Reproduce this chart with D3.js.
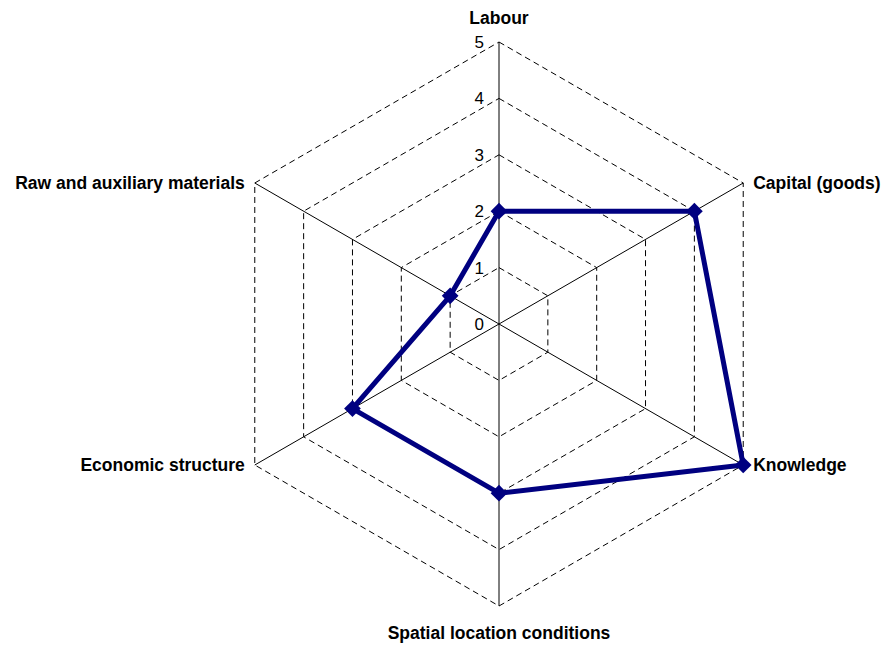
<!DOCTYPE html>
<html>
<head>
<meta charset="utf-8">
<script src="https://cdn.jsdelivr.net/npm/d3@7"></script>
<style>
  body { margin: 0; background: #fff; }
  svg { display: block; }
</style>
</head>
<body>
<script>
// Chart size
const w = 891;
const h = 646;

// Data
const categories = ["Labour", "Capital (goods)", "Knowledge", "Spatial location conditions", "Economic structure", "Raw and auxiliary materials"];
const values = [2, 4, 5, 3, 3, 1];
const tickValues = [0, 1, 2, 3, 4, 5];

// Center and radius of the radar
const cx = 499;
const cy = 324;
const radius = 282;

const svg = d3.select("body").append("svg").attr("width", w).attr("height", h);

const rScale = d3.scaleLinear().domain([0, 5]).range([0, radius]);
const angle = d3.scalePoint().domain(categories).range([0, 2 * Math.PI * (categories.length - 1) / categories.length]);

function point(cat, v) {
  const a = angle(cat);
  return [cx + rScale(v) * Math.sin(a), cy - rScale(v) * Math.cos(a)];
}

// Dashed hexagon rings
svg.append("g")
  .selectAll("path")
  .data(tickValues.slice(1))
  .enter()
  .append("path")
  .attr("d", t => d3.line()(categories.map(c => point(c, t))) + "Z")
  .attr("fill", "none")
  .attr("stroke", "#000")
  .attr("stroke-width", 1)
  .attr("stroke-dasharray", "6,4");

// Spokes
svg.append("g")
  .selectAll("line")
  .data(categories)
  .enter()
  .append("line")
  .attr("x1", cx)
  .attr("y1", cy)
  .attr("x2", c => point(c, 5)[0])
  .attr("y2", c => point(c, 5)[1])
  .attr("stroke", "#000")
  .attr("stroke-width", 1);

// Tick labels on the first axis
svg.append("g")
  .selectAll("text")
  .data(tickValues)
  .enter()
  .append("text")
  .attr("x", cx - 15)
  .attr("y", t => cy - rScale(t) + 6)
  .attr("text-anchor", "end")
  .style("font-family", "Liberation Sans, Arial, sans-serif")
  .style("font-size", "17px")
  .text(t => t);

// Data line
const pts = categories.map((c, i) => point(c, values[i]));
svg.append("path")
  .attr("d", d3.line()(pts) + "Z")
  .attr("fill", "none")
  .attr("stroke", "#000080")
  .attr("stroke-width", 5)
  .attr("stroke-linejoin", "round");

// Diamond markers
svg.append("g")
  .selectAll("path")
  .data(pts)
  .enter()
  .append("path")
  .attr("d", d3.symbol().type(d3.symbolSquare).size(140))
  .attr("transform", d => "translate(" + d[0] + "," + d[1] + ") rotate(45)")
  .attr("fill", "#000080");

// Category labels
svg.append("g")
  .selectAll("text")
  .data(categories)
  .enter()
  .append("text")
  .attr("x", c => {
    const p = point(c, 5);
    const s = Math.sin(angle(c));
    return s > 0.1 ? p[0] + 10 : s < -0.1 ? p[0] - 10 : p[0];
  })
  .attr("y", c => {
    const p = point(c, 5);
    const co = Math.cos(angle(c));
    if (co > 0.9) return p[1] - 18;
    if (co < -0.9) return p[1] + 33;
    return p[1] + 6;
  })
  .attr("text-anchor", c => {
    const s = Math.sin(angle(c));
    return s > 0.1 ? "start" : s < -0.1 ? "end" : "middle";
  })
  .style("font-family", "Liberation Sans, Arial, sans-serif")
  .style("font-size", "17.5px")
  .style("font-weight", "bold")
  .text(c => c);
</script>
</body>
</html>
